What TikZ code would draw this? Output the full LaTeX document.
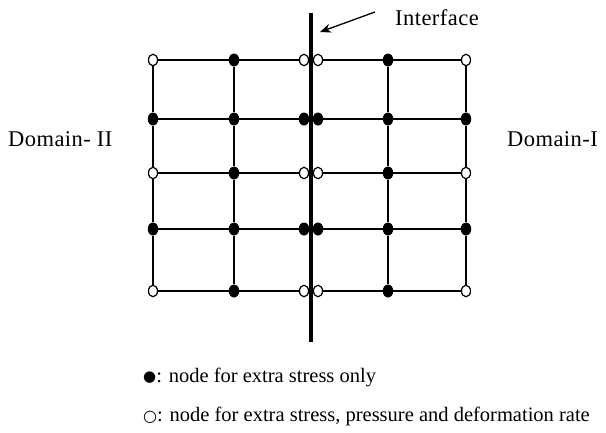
\documentclass[tikz,border=0pt]{standalone}
\usepackage{fontspec}
\setmainfont{Liberation Serif}
\newfontfamily\lblfont[LetterSpace=2]{Liberation Serif}
\newfontfamily\symfont{DejaVu Sans}
\usetikzlibrary{shapes.geometric,arrows.meta}
\tikzset{
  gridline/.style={line width=1.3pt},
  opn/.style={draw, fill=white, ellipse, minimum width=9pt, minimum height=11.5pt, inner sep=0pt, line width=1.2pt},
  fil/.style={fill=black, ellipse, minimum width=10.5pt, minimum height=13pt, inner sep=0pt},
  lbl/.style={anchor=base west, inner sep=0pt, font=\lblfont\fontsize{22.5}{24}\selectfont},
  leg/.style={anchor=base west, inner sep=0pt, font=\fontsize{20.5}{22}\selectfont},
}
\begin{document}
\begin{tikzpicture}[x=1pt,y=-1pt]
\useasboundingbox (0,0) rectangle (606,432);
\foreach \r/\y/\t in {1/60/opn,2/119/fil,3/173/opn,4/229/fil,5/291/opn}{
  \node[\t] (L\r1) at (153,\y) {};
  \node[fil] (L\r2) at (234,\y) {};
  \node[\t] (L\r3) at (304,\y) {};
  \node[\t] (R\r1) at (318,\y) {};
  \node[fil] (R\r2) at (388,\y) {};
  \node[\t] (R\r3) at (466,\y) {};
}
\foreach \r in {1,...,5}{
  \draw[gridline] (L\r1) -- (L\r2) -- (L\r3);
  \draw[gridline] (R\r1) -- (R\r2) -- (R\r3);
}
\foreach \r/\s in {1/2,2/3,3/4,4/5}{
  \draw[gridline] (L\r1) -- (L\s1);
  \draw[gridline] (L\r2) -- (L\s2);
  \draw[gridline] (R\r2) -- (R\s2);
  \draw[gridline] (R\r3) -- (R\s3);
}
\coordinate (itop) at (311,13);
\coordinate (ibot) at (311,342);
\draw[line width=4.5pt] (itop) -- (ibot);
\coordinate (atail) at (375,12);
\coordinate (atip) at (320,32);
\draw[line width=1.3pt, -{Stealth[length=11pt,width=9pt]}] (atail) -- (atip);
\node[lbl] (iface) at (395,25) {Interface};
\node[lbl] (d2) at (8,146) {Domain- II};
\node[lbl] (d1) at (507,146) {Domain-I};
\node[leg] (leg1) at (143,382) {{\symfont\fontsize{15}{15}\selectfont\raisebox{0.5pt}{●}}: node for extra stress only};
\node[leg] (leg2) at (143,421) {{\symfont\fontsize{16}{16}\selectfont ○}: node for extra stress, pressure and deformation rate};
\end{tikzpicture}
\end{document}
